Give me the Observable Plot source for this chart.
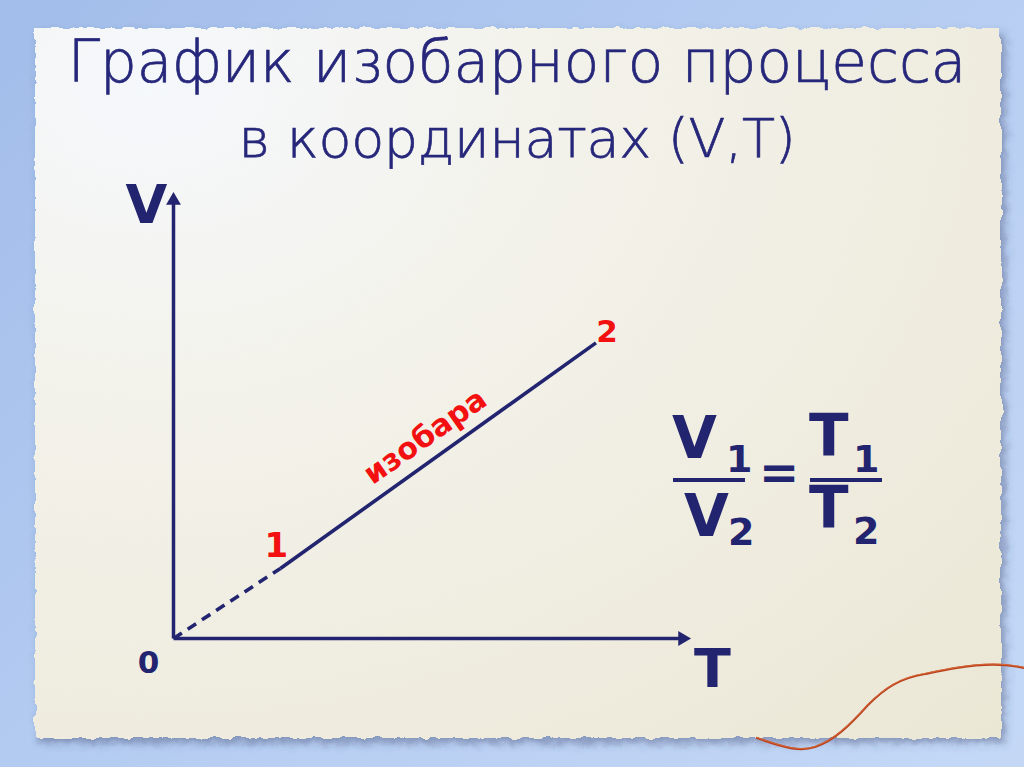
<!DOCTYPE html>
<html>
<head>
<meta charset="utf-8">
<script src="https://cdn.jsdelivr.net/npm/d3@7"></script>
<script src="https://cdn.jsdelivr.net/npm/@observablehq/plot@0.6"></script>
<style>
  html, body { margin: 0; padding: 0; }
  body {
    width: 1024px; height: 767px; overflow: hidden; position: relative;
    background: linear-gradient(135deg, #a2bdea 0%, #b6cdf2 50%, #c4d8f6 100%);
  }
  #paper {
    position: absolute; left: 35px; top: 28px; width: 966px; height: 710px;
    background: radial-gradient(ellipse at 12% 8%, #f5f8fc 0%, #f3f2ea 35%, #efecdf 70%, #ebe7d5 100%);
    box-shadow: 4px 5px 8px rgba(60,70,110,0.45);
    filter: url(#torn);
  }
  #title {
    position: absolute; left: 0; top: 28px; width: 1034px; text-align: center;
    font-family: "DejaVu Sans", sans-serif; font-weight: 200;
    line-height: 68px; color: #26277a; margin: 0; -webkit-text-stroke: 0.7px #26277a;
  }
  #title .l1 { font-size: 58px; }
  #title .l2 { font-size: 54px; letter-spacing: -0.3px; }
  #chart { position: absolute; left: 0; top: 0; }
  #formula { position: absolute; left: 0; top: 0; width: 1024px; height: 767px;
    font-family: "DejaVu Sans", sans-serif; font-weight: bold; color: #23246f; pointer-events: none; }
  #formula span { position: absolute; line-height: 1; }
  #formula .bar { position: absolute; height: 4px; background: #23246f; }
  #thread { position: absolute; left: 0; top: 0; }
</style>
</head>
<body>
<svg width="0" height="0" style="position:absolute">
  <filter id="torn" x="-5%" y="-5%" width="110%" height="110%">
    <feTurbulence type="fractalNoise" baseFrequency="0.08" numOctaves="3" seed="4" result="n"/>
    <feDisplacementMap in="SourceGraphic" in2="n" scale="7" xChannelSelector="R" yChannelSelector="G"/>
  </filter>
</svg>
<div id="paper"></div>
<h1 id="title"><span class="l1">График изобарного процесса</span><br><span class="l2">в координатах (V,T)</span></h1>
<div id="chart"></div>
<div id="formula">
  <span style="left:672px; top:409px; font-size:58px;">V</span>
  <span style="left:726px; top:440px; font-size:38px;">1</span>
  <div class="bar" style="left:673px; top:478px; width:72px;"></div>
  <span style="left:684px; top:487px; font-size:58px;">V</span>
  <span style="left:728px; top:513px; font-size:38px;">2</span>
  <span style="left:759px; top:448px; font-size:48px;">=</span>
  <span style="left:809px; top:407px; font-size:58px;">T</span>
  <span style="left:853px; top:440px; font-size:38px;">1</span>
  <div class="bar" style="left:810px; top:478px; width:72px;"></div>
  <span style="left:809px; top:479px; font-size:58px;">T</span>
  <span style="left:853px; top:512px; font-size:38px;">2</span>
</div>
<svg id="thread" width="1024" height="767">
  <path d="M757,738 C785,748 800,752 815,747 C835,740 850,725 868,705 C885,688 900,678 925,674 C955,668 990,660 1024,668"
        fill="none" stroke="#b8421f" stroke-width="2.2" stroke-linecap="round"/>
  <path d="M757,738 C785,748 800,752 815,747 C835,740 850,725 868,705 C885,688 900,678 925,674 C955,668 990,660 1024,668"
        fill="none" stroke="#e0703a" stroke-width="0.8" stroke-linecap="round" transform="translate(0,-0.6)"/>
</svg>
<script>
// Data (abstract units: T horizontal, V vertical, both 0..100)
const axisEnd = 100;
const points = [
  {name: "1", T: 21, V: 16, dx: -4, dy: -22, size: 34},
  {name: "2", T: 83, V: 67.5, dx: 11, dy: -11, size: 31}
];
const axisLabels = [
  {label: "V", T: 0, V: 100, dx: -27, dy: 5, size: 54},
  {label: "T", T: 100, V: 0, dx: 30, dy: 31, size: 54},
  {label: "0", T: 0, V: 0, dx: -25, dy: 25, size: 31}
];
const isobarLabel = "изобара";

const navy = "#23246f";
const red = "#f21010";

const axes = [
  {T1: 0, V1: 0, T2: axisEnd, V2: 0, rot: 90},
  {T1: 0, V1: 0, T2: 0, V2: axisEnd, rot: 0}
];
const p1 = points[0], p2 = points[1];
const mid = {T: (p1.T + p2.T) / 2, V: (p1.V + p2.V) / 2};

const chart = Plot.plot({
  width: 1024, height: 767,
  marginLeft: 173, marginRight: 342, marginTop: 200, marginBottom: 129,
  x: {domain: [0, 100], axis: null},
  y: {domain: [0, 100], axis: null},
  style: {background: "transparent", overflow: "visible"},
  marks: [
    Plot.link(axes, {x1: "T1", y1: "V1", x2: "T2", y2: "V2", stroke: navy, strokeWidth: 3.5}),
    Plot.dot(axes, {x: "T2", y: "V2", symbol: "triangle", r: 5.5, fill: navy, stroke: "none", rotate: "rot"}),
    Plot.link([{T1: 0, V1: 0, T2: p1.T, V2: p1.V}], {x1: "T1", y1: "V1", x2: "T2", y2: "V2",
      stroke: navy, strokeWidth: 3.6, strokeDasharray: "10,7"}),
    Plot.link([{T1: p1.T, V1: p1.V, T2: p2.T, V2: p2.V}], {x1: "T1", y1: "V1", x2: "T2", y2: "V2",
      stroke: navy, strokeWidth: 3.6}),
    ...points.map(p => Plot.text([p], {x: "T", y: "V", text: "name", dx: p.dx, dy: p.dy, fill: red,
      fontSize: p.size, fontWeight: "bold", fontFamily: "DejaVu Sans"})),
    Plot.text([mid], {x: "T", y: "V", text: () => isobarLabel, dx: -13, dy: -19, rotate: -35,
      fill: red, fontSize: 30, fontWeight: "bold", fontFamily: "DejaVu Sans"}),
    ...axisLabels.map(a => Plot.text([a], {x: "T", y: "V", text: "label", dx: a.dx, dy: a.dy,
      fill: navy, fontSize: a.size, fontWeight: "bold", fontFamily: "DejaVu Sans"}))
  ]
});
document.getElementById("chart").appendChild(chart);
</script>
</body>
</html>
